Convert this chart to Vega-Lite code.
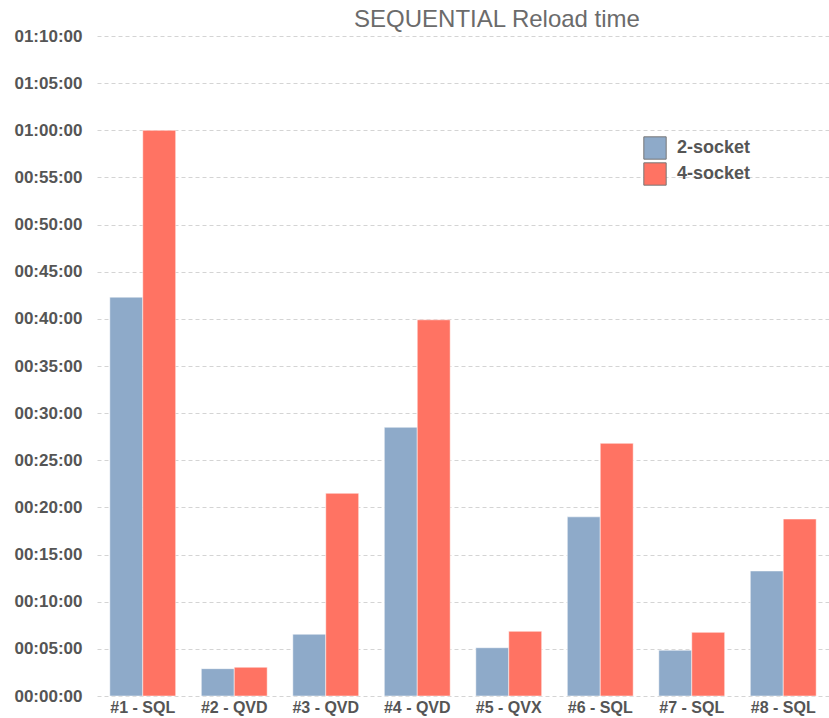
{
  "$schema": "https://vega.github.io/schema/vega-lite/v6.json",
  "width": 732,
  "height": 660,
  "autosize": {"type": "none"},
  "padding": {"left": 97, "top": 36, "right": 0, "bottom": 22},
  "title": {
    "text": "SEQUENTIAL Reload time",
    "anchor": "middle",
    "dx": 34,
    "dy": 10,
    "fontSize": 24,
    "fontWeight": "normal",
    "font": "Liberation Sans",
    "color": "#6b6b6b",
    "offset": 5
  },
  "data": {
    "values": [
      {"test": "#1 - SQL", "config": "2-socket", "minutes": 42.3},
      {"test": "#1 - SQL", "config": "4-socket", "minutes": 60.0},
      {"test": "#2 - QVD", "config": "2-socket", "minutes": 2.9},
      {"test": "#2 - QVD", "config": "4-socket", "minutes": 3.05},
      {"test": "#3 - QVD", "config": "2-socket", "minutes": 6.55},
      {"test": "#3 - QVD", "config": "4-socket", "minutes": 21.5},
      {"test": "#4 - QVD", "config": "2-socket", "minutes": 28.5},
      {"test": "#4 - QVD", "config": "4-socket", "minutes": 39.9},
      {"test": "#5 - QVX", "config": "2-socket", "minutes": 5.12},
      {"test": "#5 - QVX", "config": "4-socket", "minutes": 6.86},
      {"test": "#6 - SQL", "config": "2-socket", "minutes": 19.0},
      {"test": "#6 - SQL", "config": "4-socket", "minutes": 26.8},
      {"test": "#7 - SQL", "config": "2-socket", "minutes": 4.85},
      {"test": "#7 - SQL", "config": "4-socket", "minutes": 6.75},
      {"test": "#8 - SQL", "config": "2-socket", "minutes": 13.26},
      {"test": "#8 - SQL", "config": "4-socket", "minutes": 18.77}
    ]
  },
  "mark": {"type": "bar", "stroke": "#ffffff", "strokeOpacity": 0.5, "strokeWidth": 1},
  "encoding": {
    "x": {
      "field": "test",
      "type": "nominal",
      "sort": null,
      "scale": {"paddingInner": 0.28, "paddingOuter": 0.14},
      "axis": {
        "title": null,
        "labelAngle": 0,
        "domain": false,
        "ticks": false,
        "labelFont": "Liberation Sans",
        "labelFontSize": 16,
        "labelFontWeight": "bold",
        "labelColor": "#555555",
        "labelPadding": 3
      }
    },
    "xOffset": {"field": "config", "type": "nominal", "scale": {"paddingInner": 0}},
    "y": {
      "field": "minutes",
      "type": "quantitative",
      "scale": {"domain": [0, 70], "nice": false},
      "axis": {
        "title": null,
        "values": [0, 5, 10, 15, 20, 25, 30, 35, 40, 45, 50, 55, 60, 65, 70],
        "labelExpr": "utcFormat(datum.value * 60000, '%H:%M:%S')",
        "domain": false,
        "ticks": false,
        "grid": true,
        "gridDash": [4, 3],
        "gridColor": "#d4d4d4",
        "gridWidth": 1,
        "labelFont": "Liberation Sans",
        "labelFontSize": 17,
        "labelFontWeight": "bold",
        "labelColor": "#555555",
        "labelPadding": 15
      }
    },
    "color": {
      "field": "config",
      "type": "nominal",
      "scale": {"domain": ["2-socket", "4-socket"], "range": ["#8eaac9", "#ff7363"]},
      "legend": {
        "title": null,
        "orient": "none",
        "legendX": 546,
        "legendY": 100,
        "symbolType": "square",
        "symbolSize": 500,
        "symbolStrokeColor": "#777777",
        "symbolStrokeWidth": 1,
        "rowPadding": -8,
        "labelFont": "Liberation Sans",
        "labelFontSize": 18,
        "labelFontWeight": "bold",
        "labelColor": "#555555",
        "labelOffset": 10
      }
    }
  },
  "config": {"view": {"stroke": null}}
}
